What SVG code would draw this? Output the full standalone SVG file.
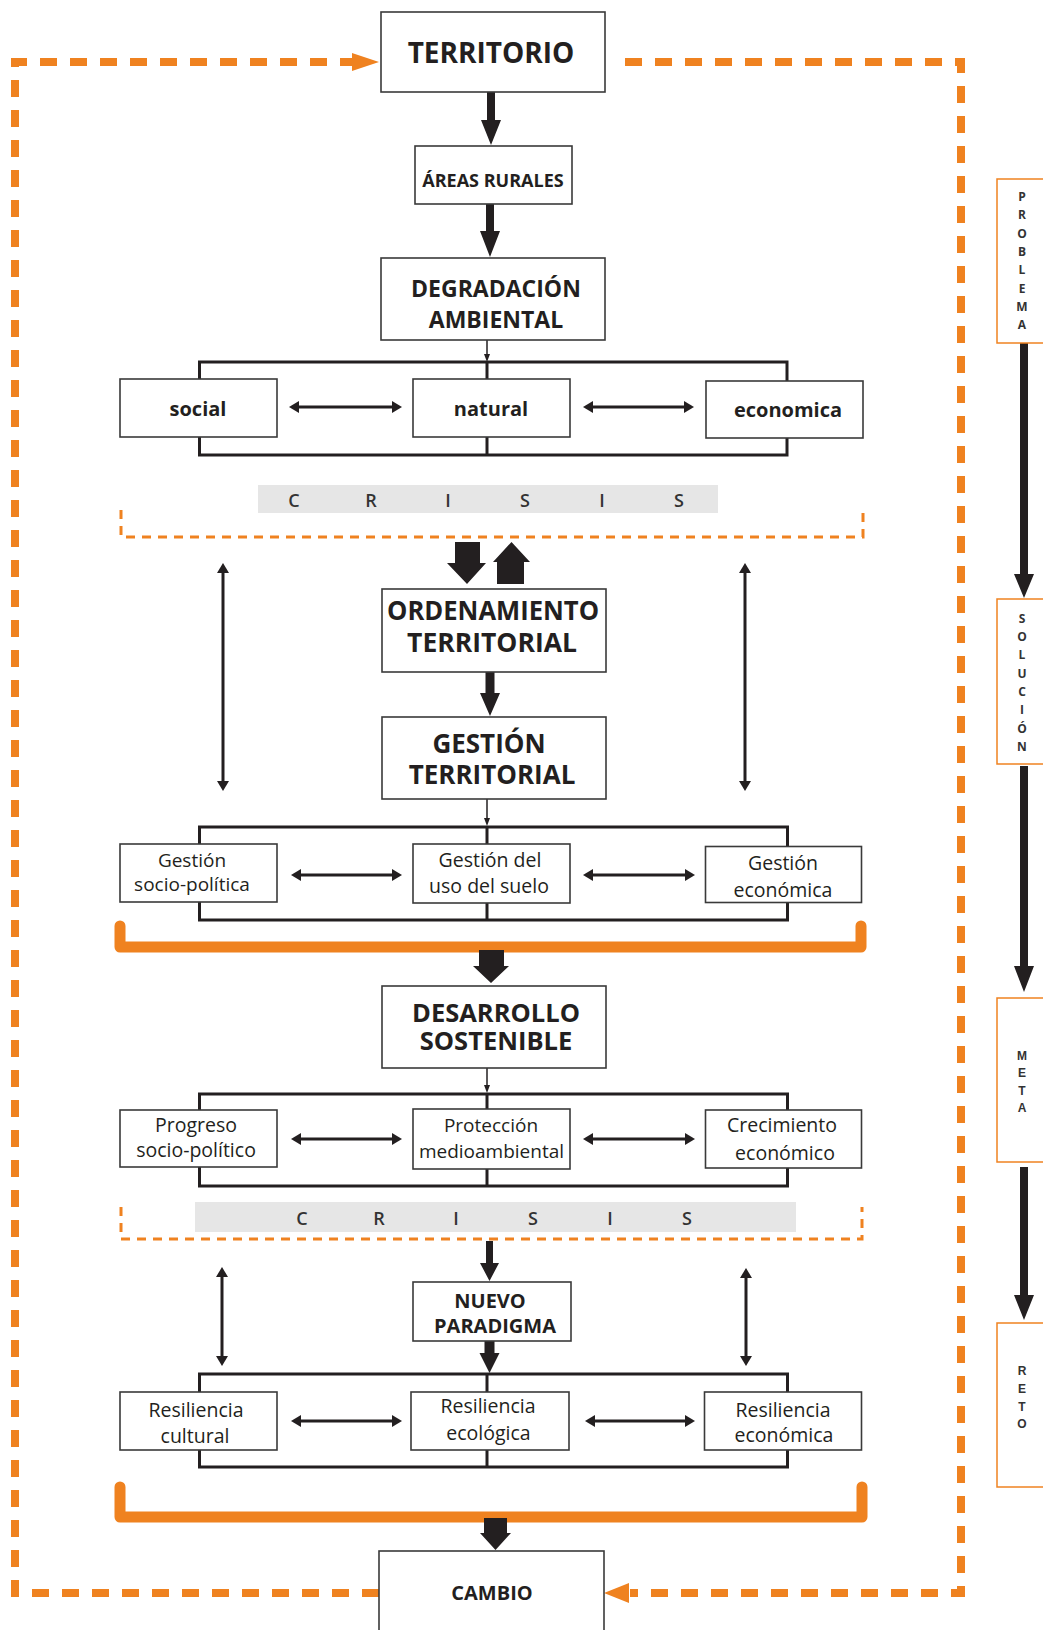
<svg xmlns="http://www.w3.org/2000/svg" width="1043" height="1630" viewBox="0 0 1043 1630">
<style>
.box{fill:#fff;stroke:#3a3a3a;stroke-width:1.6}
.br{fill:none;stroke:#231f20;stroke-width:3}
.t{font-family:"Open Sans","Liberation Sans",sans-serif;fill:#231f20;text-anchor:middle}
.b{font-weight:700}
.dash{fill:none;stroke:#ef8220;stroke-width:8;stroke-dasharray:17 13}
.cr{fill:none;stroke:#ef8220;stroke-width:3;stroke-dasharray:9 7}
.ob{fill:none;stroke:#ef8220;stroke-width:11;stroke-linecap:round;stroke-linejoin:round}
.blk{fill:#231f20}
.org{fill:#ef8220}
.thin{stroke:#231f20;stroke-width:3;marker-start:url(#ah);marker-end:url(#ah)}
.sm{stroke:#231f20;stroke-width:1.5}
.band{fill:#e6e6e6}
.cl{font-family:"Open Sans","Liberation Sans",sans-serif;font-weight:600;font-size:18px;fill:#333;text-anchor:middle}
.side{fill:#fff;stroke:#ef8220;stroke-width:1.5}
.sl{font-family:"Open Sans","Liberation Sans",sans-serif;font-weight:700;font-size:12px;fill:#333;text-anchor:middle}
.sl2{font-family:"Liberation Sans",Arial,sans-serif;font-weight:700;font-size:12px;fill:#333;text-anchor:middle}
</style>
<defs>
<marker id="ah" viewBox="0 0 10 12" refX="4" refY="6" markerWidth="10" markerHeight="12" markerUnits="userSpaceOnUse" orient="auto-start-reverse">
<path d="M0,0 L10,6 L0,12 z" fill="#231f20"/>
</marker>
</defs>

<g id="connectors">
<path class="dash" d="M625,62 H961 V1593 H630"/>
<polygon class="org" points="629,1583 604,1593 629,1603"/>
<path class="dash" d="M379,1593 H15 V62 H352"/>
<polygon class="org" points="352,53 379,62 352,71"/>
<polygon class="blk" points="487,92 495,92 495,120 501,120 491,145 481,120 487,120"/>
<polygon class="blk" points="486,204 494,204 494,231 500,231 490,257 480,231 486,231"/>
<polygon class="blk" points="485.5,672 494.5,672 494.5,693 500,693 490,716 480,693 485.5,693"/>
<polygon class="blk" points="486,1241 493,1241 493,1263 499,1263 489.5,1281 480,1263 486,1263"/>
<polygon class="blk" points="484.5,1341 494.5,1341 494.5,1353 499.5,1353 489.5,1373 479.5,1353 484.5,1353"/>
<polygon class="blk" points="455,542 480,542 480,563 486,563 467,584 447,563 455,563"/>
<polygon class="blk" points="497,584 524,584 524,562 530,562 511.5,542 493,562 497,562"/>
<line class="sm" x1="487" y1="340" x2="487" y2="355"/>
<polygon class="blk" points="484,354 490,354 487,362"/>
<line class="sm" x1="487" y1="799" x2="487" y2="819"/>
<polygon class="blk" points="484,818 490,818 487,826"/>
<line class="sm" x1="487" y1="1068" x2="487" y2="1086"/>
<polygon class="blk" points="484,1085 490,1085 487,1093"/>
<rect class="br" x="199.5" y="362" width="587.5" height="93"/>
<line class="br" x1="487" y1="362" x2="487" y2="455"/>
<rect class="br" x="199.5" y="827" width="588" height="93"/>
<line class="br" x1="487" y1="827" x2="487" y2="920"/>
<rect class="br" x="199.5" y="1094" width="588" height="92"/>
<line class="br" x1="487" y1="1094" x2="487" y2="1186"/>
<rect class="br" x="199.5" y="1374" width="588" height="93"/>
<line class="br" x1="487" y1="1374" x2="487" y2="1467"/>
<line class="thin" x1="295" y1="407" x2="396" y2="407"/>
<line class="thin" x1="589" y1="407" x2="688" y2="407"/>
<line class="thin" x1="297" y1="875" x2="396" y2="875"/>
<line class="thin" x1="589" y1="875" x2="689" y2="875"/>
<line class="thin" x1="297" y1="1139" x2="396" y2="1139"/>
<line class="thin" x1="589" y1="1139" x2="689" y2="1139"/>
<line class="thin" x1="297" y1="1421" x2="396" y2="1421"/>
<line class="thin" x1="591" y1="1421" x2="689" y2="1421"/>
<line class="thin" x1="223" y1="569" x2="223" y2="785"/>
<line class="thin" x1="745" y1="569" x2="745" y2="785"/>
<line class="thin" x1="222" y1="1273" x2="222" y2="1360"/>
<line class="thin" x1="746" y1="1274" x2="746" y2="1360"/>
<rect class="band" x="258" y="485" width="460" height="28"/>
<path class="cr" d="M121,510 V537 H863 V510"/>
<rect class="band" x="195" y="1202" width="601" height="30"/>
<path class="cr" d="M121,1207 V1239 H862 V1207"/>
<path class="ob" d="M120,926 V947 H861 V926"/>
<polygon class="blk" points="479,950 504,950 504,966 509,966 491,983 473,966 479,966"/>
<path class="ob" d="M120,1487 V1517 H862 V1487"/>
<polygon class="blk" points="484,1518 507,1518 507,1533 511,1533 495.5,1550 480,1533 484,1533"/>
<polygon class="blk" points="1020,343 1028,343 1028,574 1034,574 1024,598 1014,574 1020,574"/>
<polygon class="blk" points="1020,766 1028,766 1028,966 1034,966 1024,992 1014,966 1020,966"/>
<polygon class="blk" points="1020,1167 1028,1167 1028,1295 1034,1295 1024,1320 1014,1295 1020,1295"/>
</g>

<g id="crisis1">
<text class="cl" x="294" y="507">C</text><text class="cl" x="371" y="507">R</text><text class="cl" x="448" y="507">I</text><text class="cl" x="525" y="507">S</text><text class="cl" x="602" y="507">I</text><text class="cl" x="679" y="507">S</text>
</g>
<g id="crisis2">
<text class="cl" x="302" y="1225">C</text><text class="cl" x="379" y="1225">R</text><text class="cl" x="456" y="1225">I</text><text class="cl" x="533" y="1225">S</text><text class="cl" x="610" y="1225">I</text><text class="cl" x="687" y="1225">S</text>
</g>

<g id="territorio"><rect class="box" x="381" y="12" width="224" height="80"/><text class="t b" x="491" y="63" font-size="28">TERRITORIO</text></g>
<g id="areas"><rect class="box" x="415" y="146" width="157" height="58"/><text class="t b" x="493" y="187" font-size="18">ÁREAS RURALES</text></g>
<g id="degradacion"><rect class="box" x="381" y="258" width="224" height="82"/><text class="t b" x="496" y="297" font-size="23">DEGRADACIÓN</text><text class="t b" x="496" y="328" font-size="23">AMBIENTAL</text></g>
<g id="social"><rect class="box" x="120" y="379" width="157" height="58"/><text class="t b" x="198" y="416" font-size="20">social</text></g>
<g id="natural"><rect class="box" x="413" y="379" width="157" height="58"/><text class="t b" x="491" y="416" font-size="20">natural</text></g>
<g id="economica"><rect class="box" x="706" y="381" width="157" height="57"/><text class="t b" x="788" y="417" font-size="20">economica</text></g>
<g id="ordenamiento"><rect class="box" x="382" y="589" width="224" height="83"/><text class="t b" x="493" y="620" font-size="26" textLength="212" lengthAdjust="spacingAndGlyphs">ORDENAMIENTO</text><text class="t b" x="492" y="652" font-size="26.5">TERRITORIAL</text></g>
<g id="gestion"><rect class="box" x="382" y="717" width="224" height="82"/><text class="t b" x="489" y="753" font-size="26" fill="#333">GESTIÓN</text><text class="t b" x="492" y="784" font-size="26">TERRITORIAL</text></g>
<g id="gestion-socio"><rect class="box" x="120" y="844" width="157" height="58"/><text class="t" x="192" y="867" font-size="19">Gestión</text><text class="t" x="192" y="891" font-size="19">socio-política</text></g>
<g id="gestion-suelo"><rect class="box" x="413" y="844" width="157" height="59"/><text class="t" x="490" y="867" font-size="19.5">Gestión del</text><text class="t" x="489" y="893" font-size="19.5">uso del suelo</text></g>
<g id="gestion-eco"><rect class="box" x="705.5" y="846.5" width="156" height="56"/><text class="t" x="783" y="870" font-size="19.5">Gestión</text><text class="t" x="783" y="897" font-size="19.5">económica</text></g>
<g id="desarrollo"><rect class="box" x="382" y="986" width="224" height="82"/><text class="t b" x="496" y="1022" font-size="25.5">DESARROLLO</text><text class="t b" x="496" y="1050" font-size="25.5">SOSTENIBLE</text></g>
<g id="progreso"><rect class="box" x="120" y="1110" width="157" height="57"/><text class="t" x="196" y="1132" font-size="19.5">Progreso</text><text class="t" x="196" y="1157" font-size="19.5">socio-político</text></g>
<g id="proteccion"><rect class="box" x="413" y="1109" width="157" height="60"/><text class="t" x="491" y="1132" font-size="19">Protección</text><text class="t" x="491.5" y="1158" font-size="19">medioambiental</text></g>
<g id="crecimiento"><rect class="box" x="705.5" y="1110" width="156" height="58"/><text class="t" x="782" y="1132" font-size="19.5">Crecimiento</text><text class="t" x="785" y="1160" font-size="19.5">económico</text></g>
<g id="nuevo"><rect class="box" x="413" y="1282" width="158" height="59"/><text class="t b" x="490" y="1308" font-size="20">NUEVO</text><text class="t b" x="495" y="1333" font-size="20">PARADIGMA</text></g>
<g id="res-cultural"><rect class="box" x="120" y="1392" width="157" height="58"/><text class="t" x="196" y="1417" font-size="19.5">Resiliencia</text><text class="t" x="195" y="1443" font-size="19.5">cultural</text></g>
<g id="res-ecologica"><rect class="box" x="411" y="1392" width="158" height="58"/><text class="t" x="488" y="1413" font-size="19.5">Resiliencia</text><text class="t" x="488.5" y="1440" font-size="19.5">ecológica</text></g>
<g id="res-economica"><rect class="box" x="704.5" y="1392" width="157" height="58"/><text class="t" x="783" y="1417" font-size="19.5">Resiliencia</text><text class="t" x="784" y="1442" font-size="19.5">económica</text></g>
<g id="cambio"><rect class="box" x="379" y="1551" width="225" height="100"/><text class="t b" x="492" y="1600" font-size="20">CAMBIO</text></g>

<g id="problema"><rect class="side" x="997" y="179" width="60" height="164"/>
<text class="sl" x="1022" y="200.5">P</text><text class="sl" x="1022" y="219">R</text><text class="sl" x="1022" y="237.5">O</text><text class="sl" x="1022" y="256">B</text><text class="sl" x="1022" y="274">L</text><text class="sl" x="1022" y="292.5">E</text><text class="sl" x="1022" y="311">M</text><text class="sl" x="1022" y="329">A</text></g>
<g id="solucion"><rect class="side" x="997" y="599" width="60" height="165"/>
<text class="sl" x="1022" y="622.5">S</text><text class="sl" x="1022" y="641">O</text><text class="sl" x="1022" y="659">L</text><text class="sl" x="1022" y="677.5">U</text><text class="sl" x="1022" y="696">C</text><text class="sl" x="1022" y="714">I</text><text class="sl" x="1022" y="732.5">Ó</text><text class="sl" x="1022" y="751">N</text></g>
<g id="meta"><rect class="side" x="997" y="998" width="60" height="164"/>
<text class="sl2" x="1022" y="1060">M</text><text class="sl2" x="1022" y="1077">E</text><text class="sl2" x="1022" y="1094.5">T</text><text class="sl2" x="1022" y="1112">A</text></g>
<g id="reto"><rect class="side" x="997" y="1323" width="60" height="164"/>
<text class="sl2" x="1022" y="1375">R</text><text class="sl2" x="1022" y="1393">E</text><text class="sl2" x="1022" y="1410.5">T</text><text class="sl2" x="1022" y="1428">O</text></g>
</svg>
